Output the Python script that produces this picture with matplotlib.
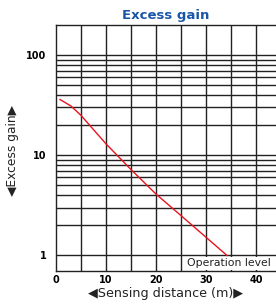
import matplotlib
matplotlib.use("Agg")
import matplotlib.pyplot as plt
import numpy as np

distance = [0.8, 3, 5, 10, 15, 20, 25, 30, 34.2]
gain = [36, 31, 25, 13, 7.2, 4.1, 2.5, 1.52, 1.0]
xticks = [0, 10, 20, 30, 40]
yticks = [1, 10, 100]
ytick_labels = ["1", "10", "100"]
minor_y = [2, 3, 4, 5, 6, 7, 8, 9, 20, 30, 40, 50, 60, 70, 80, 90]

fig = plt.figure(figsize=(2.76, 3.07), dpi=100)
ax = fig.add_axes([56/276, 36.5/307, 1 - 56/276, (270.5-25)/307])
ax.set_yscale("log")
ax.set_xlim(0, 44)
ax.set_ylim(10**-0.15, 10**2.3)

for x in np.arange(5, 44, 5):
    ax.axvline(x, color="#222222", lw=1.0, zorder=1)
for y in yticks + minor_y:
    ax.axhline(y, color="#222222", lw=1.0, zorder=1)

ax.plot(distance, gain, color="#e8141e", lw=1.0, zorder=3)

ax.text(42.9, 0.835, "Operation level", ha="right", va="center", fontsize=7.8,
        color="#222222", zorder=4,
        bbox=dict(facecolor="white", edgecolor="none", pad=1.2))

ax.set_xticks(xticks)
ax.set_xticklabels([str(v) for v in xticks], fontsize=7, fontweight="bold")
ax.set_yticks(yticks)
ax.set_yticklabels(ytick_labels, fontsize=7, fontweight="bold")
ax.yaxis.set_minor_locator(matplotlib.ticker.NullLocator())
ax.tick_params(length=0, pad=3)
ax.tick_params(axis="y", pad=7)

for s in ["top", "left", "bottom"]:
    ax.spines[s].set_color("#222222")
    ax.spines[s].set_linewidth(1.0)
ax.spines["right"].set_visible(False)

ax.set_xlabel("◀Sensing distance (m)▶", fontsize=9.2, color="#222222", labelpad=2)
ax.set_ylabel("◀Excess gain▶", fontsize=8.8, color="#222222")
ax.yaxis.set_label_coords(-36.5/220, (270.5-150)/245.5)
ax.set_title("Excess gain", fontsize=9.5, fontweight="bold", color="#1a56a8", pad=4)

fig.savefig("out.png", dpi=100)
